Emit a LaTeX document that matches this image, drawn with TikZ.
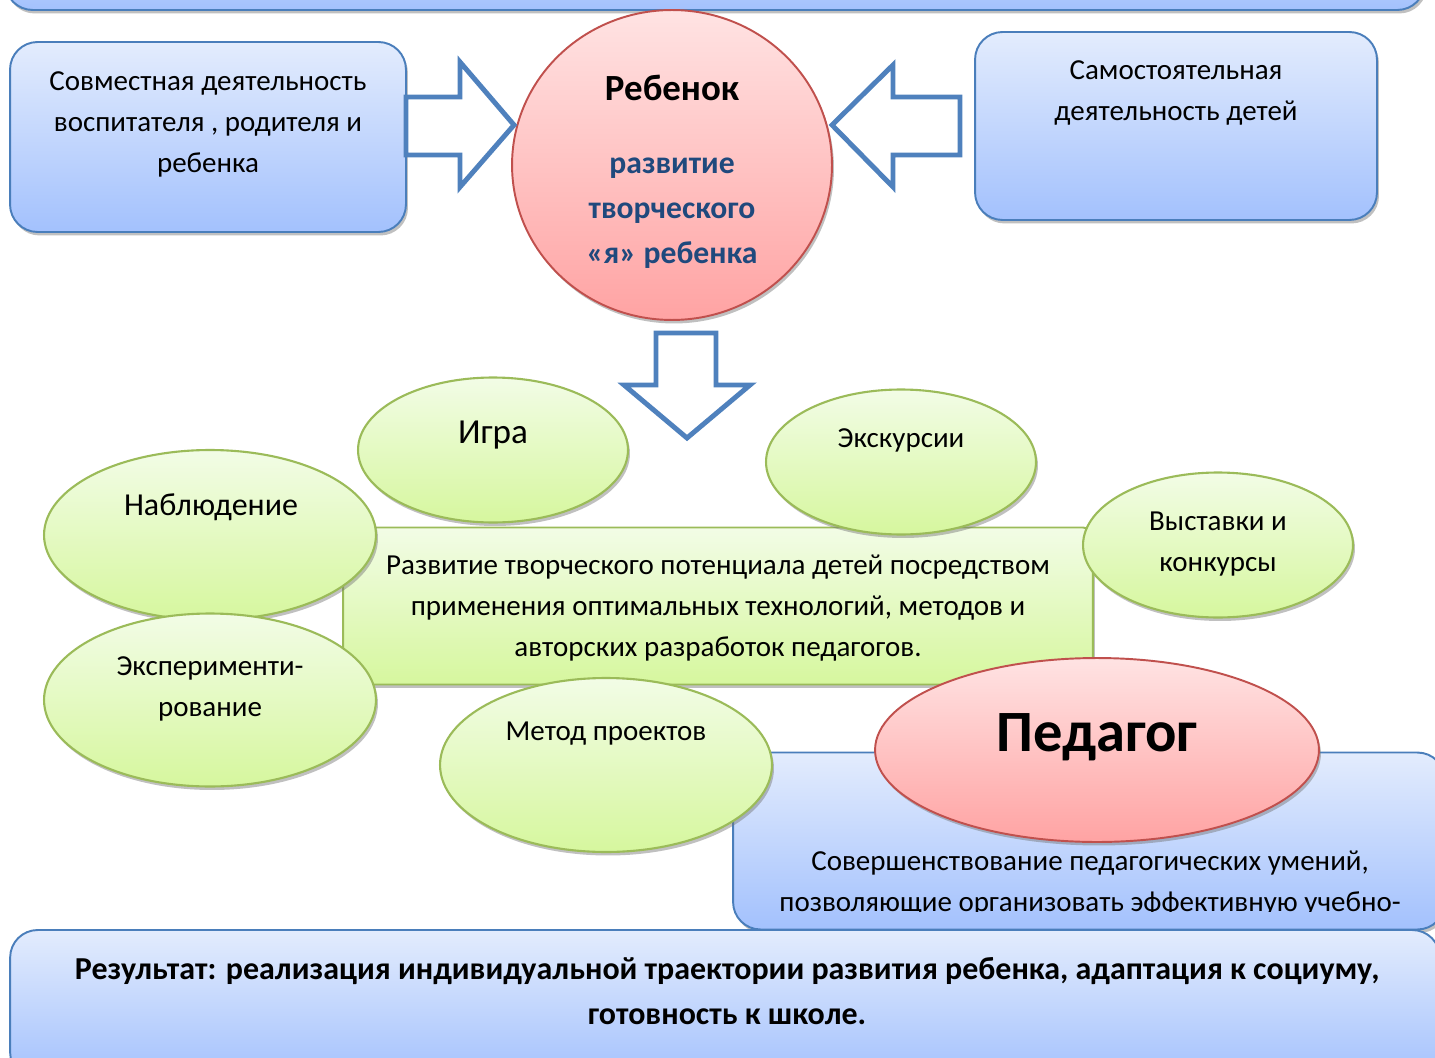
\documentclass[tikz,border=0pt]{standalone}
\usepackage{fontspec}
\setmainfont{Carlito}
\usepackage{tikz}
\usetikzlibrary{shapes.geometric,shadows}
\definecolor{bbord}{HTML}{4A7EBB}
\definecolor{btop}{HTML}{E3ECFD}
\definecolor{bbot}{HTML}{A3C1FD}
\definecolor{pbord}{HTML}{C0504D}
\definecolor{ptop}{HTML}{FFE3E3}
\definecolor{pbot}{HTML}{FFA3A3}
\definecolor{gbord}{HTML}{9BBB59}
\definecolor{gtop}{HTML}{F2FCE6}
\definecolor{gbot}{HTML}{D6F79E}
\definecolor{arrc}{HTML}{4F81BD}
\definecolor{dblue}{HTML}{1F497D}
\tikzset{
  dshadow/.style={drop shadow={shadow xshift=0.04cm, shadow yshift=-0.07cm, fill=black!55, opacity=0.45}},
  bluebox/.style={rectangle, rounded corners=0.55cm, draw=bbord, line width=1.1pt,
                  top color=btop, bottom color=bbot, dshadow},
  greenbox/.style={rectangle, rounded corners=0.2cm, draw=gbord, line width=1.1pt,
                   top color=gtop, bottom color=gbot, dshadow},
  greenell/.style={ellipse, draw=gbord, line width=1.2pt, top color=gtop, bottom color=gbot, dshadow},
  pinkell/.style={ellipse, draw=pbord, line width=1.1pt, top color=ptop, bottom color=pbot, dshadow},
  blockarr/.style={draw=arrc, fill=white, line width=2.8pt, line join=miter},
  txt/.style={align=center, inner sep=0pt, font=\fontsize{16.5}{23.3}\selectfont}
}

\begin{document}
\begin{tikzpicture}[x=0.02cm, y=-0.02cm]
\useasboundingbox (0,0) rectangle (1435,1057);
\clip (0,0) rectangle (1435,1057);

% top row
\node[bluebox, minimum width=28.4cm, minimum height=2.2cm] (top) at (715,-45) {};
\node[bluebox, minimum width=7.92cm, minimum height=3.8cm] (joint) at (208,137) {};
\node[txt] (jointt) at (208,124) {Совместная деятельность\\воспитателя , родителя и\\ребенка};
\node[bluebox, minimum width=8.04cm, minimum height=3.76cm] (self) at (1176,126) {};
\node[txt] (selft) at (1176,93) {Самостоятельная\\деятельность детей};

\node[pinkell, minimum width=6.4cm, minimum height=6.2cm] (child) at (672,165) {};
\node[font=\fontsize{21}{25}\selectfont\bfseries, inner sep=0pt] (childt) at (672,88) {Ребенок};
\node[align=center, inner sep=0pt, text=dblue, font=\fontsize{18}{25.6}\selectfont\bfseries] (childs) at (672,213)
  {развитие\\творческого\\«я» ребенка};

% block arrows
\draw[blockarr] (406,97) -- (460,97) -- (460,62) -- (514,125) -- (460,187) -- (460,155) -- (406,155) -- cycle;
\draw[blockarr] (960,97) -- (893,97) -- (893,65) -- (832,125) -- (893,187) -- (893,155) -- (960,155) -- cycle;
\draw[blockarr] (656,333) -- (716,333) -- (716,385) -- (750,385) -- (687,438) -- (624,385) -- (656,385) -- cycle;

% middle
\node[greenbox, minimum width=15cm, minimum height=3.14cm] (main) at (718,606) {};
\node[txt] (maint) at (718,608.5) {Развитие творческого потенциала детей посредством\\применения оптимальных технологий, методов и\\авторских разработок педагогов.};

\node[bluebox, minimum width=14.24cm, minimum height=3.54cm] (ped) at (1089,841) {};
\begin{scope}
  \clip (733,760) rectangle (1445,911);
  \node[txt] (pedt) at (1090,884) {Совершенствование педагогических умений,\\позволяющие организовать эффективную учебно-};
\end{scope}
\node[pinkell, minimum width=8.88cm, minimum height=3.68cm] (pedell) at (1097,750) {};
\node[font=\fontsize{33.3}{38}\selectfont\bfseries, inner sep=0pt] (pedellt) at (1097,737) {Педагог};

\node[greenell, minimum width=5.4cm, minimum height=2.9cm] (igra) at (493,450) {};
\node[txt, font=\fontsize{20}{24}\selectfont] (igrat) at (493,435) {Игра};
\node[greenell, minimum width=5.4cm, minimum height=2.9cm] (exc) at (901,462) {};
\node[txt] (exct) at (901,440.5) {Экскурсии};
\node[greenell, minimum width=6.64cm, minimum height=3.4cm] (nabl) at (210,535) {};
\node[txt, font=\fontsize{18.2}{24}\selectfont] (nablt) at (211,507) {Наблюдение};
\node[greenell, minimum width=5.4cm, minimum height=2.9cm] (vyst) at (1218,545) {};
\node[txt] (vystt) at (1218,544) {Выставки и\\конкурсы};
\node[greenell, minimum width=6.64cm, minimum height=3.46cm] (eksp) at (210,700) {};
\node[txt] (ekspt) at (210,689) {Эксперименти-\\рование};
\node[greenell, minimum width=6.64cm, minimum height=3.48cm] (metod) at (606,765) {};
\node[txt] (metodt) at (606,734) {Метод проектов};

% result
\node[bluebox, minimum width=28.6cm, minimum height=3cm] (res) at (725,1005) {};
\node[txt, font=\fontsize{18.2}{26}\selectfont\bfseries] (rest) at (727,991)
  {Результат: реализация индивидуальной траектории развития ребенка, адаптация к социуму,\\готовность к школе.};
\end{tikzpicture}
\end{document}
